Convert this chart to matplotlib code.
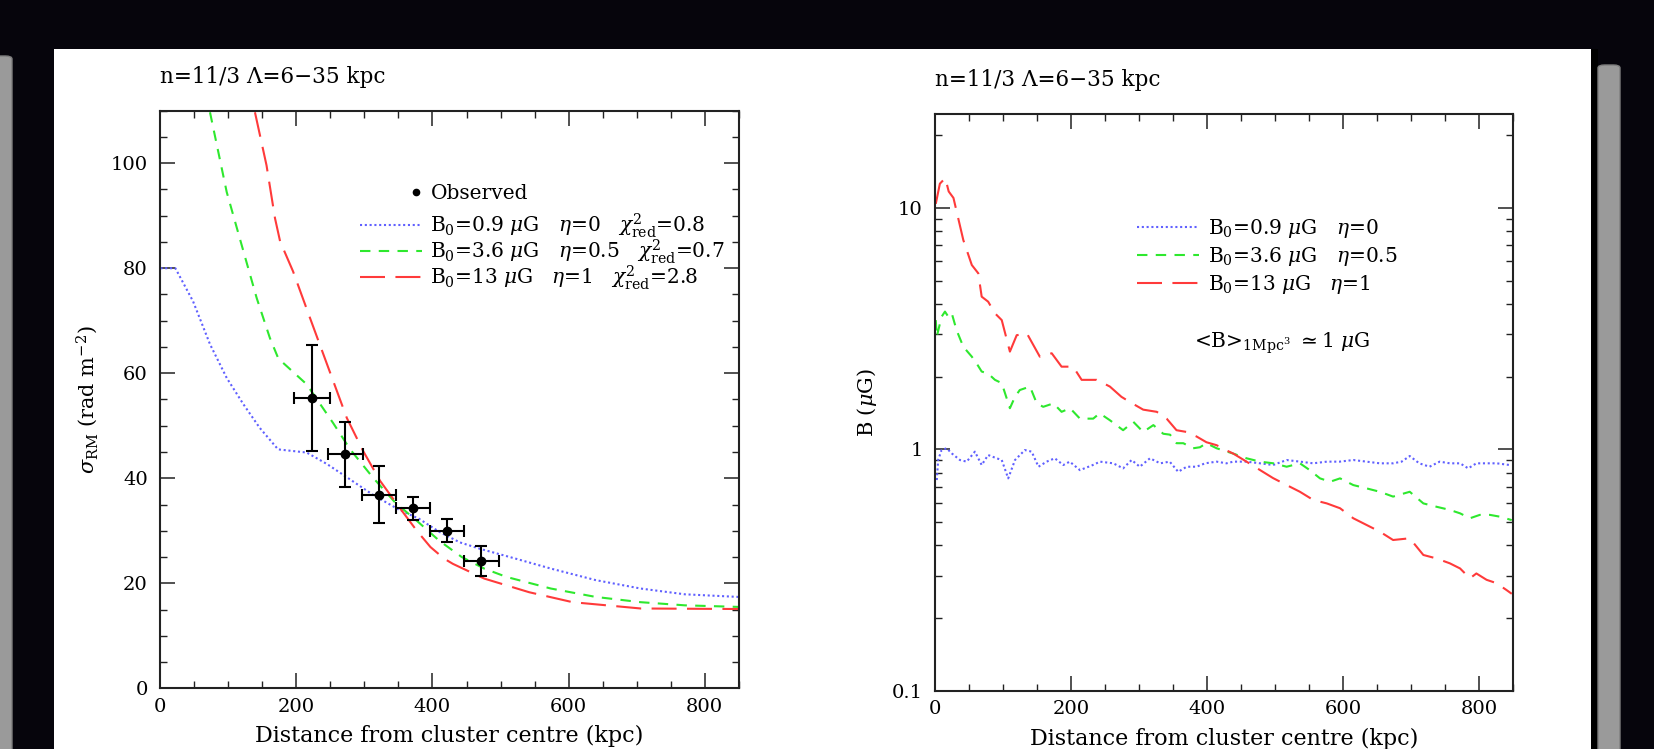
import matplotlib
matplotlib.use("Agg")
import matplotlib.pyplot as plt
from matplotlib.lines import Line2D
from matplotlib.patches import Rectangle, FancyBboxPatch
from matplotlib.ticker import MultipleLocator, LogLocator, FixedLocator, FuncFormatter, NullFormatter

# ---------------- data ----------------
# Left panel: sigma_RM profiles
obs_x = [223, 272, 322, 372, 422, 472]
obs_y = [55.3, 44.6, 36.9, 34.3, 30.0, 24.2]
obs_xerr = [26, 26, 25, 25, 25, 26]
obs_yerr = [10.1, 6.2, 5.5, 2.2, 2.2, 2.9]

blue_sx = [0, 22, 48, 73, 97.5, 122, 146, 173, 215, 245, 274, 313, 351, 380, 410, 440, 469, 522, 574, 640, 706, 771, 850]
blue_sy = [80, 80, 73.7, 65.5, 59.1, 54.1, 49.6, 45.5, 44.9, 42.7, 40.2, 36.8, 34.0, 32.3, 29.8, 27.8, 26.6, 24.7, 22.8, 20.6, 19.0, 17.9, 17.4]

green_sx = [72.9, 97.5, 119.5, 141.6, 161, 173.4, 215, 254, 279, 312, 345, 377, 410, 443, 476, 509, 574, 640, 706, 771, 850]
green_sy = [109.7, 94.5, 84.4, 74.3, 66.7, 62.8, 57.9, 50.5, 45.5, 40.2, 35.4, 31.9, 28.1, 25.0, 22.8, 21.2, 19.0, 17.4, 16.4, 15.8, 15.5]

red_sx = [139, 156, 168.5, 176, 195, 220, 245, 274, 298, 323, 351, 377, 397, 417, 430, 476, 542, 606, 706, 850]
red_sy = [109.7, 99.6, 89.5, 85.1, 79.4, 70.5, 61.7, 51.5, 45.2, 39.5, 34.5, 30.0, 26.9, 24.7, 23.7, 20.9, 18.3, 16.4, 15.2, 15.1]

# Right panel: B profiles
red_bx = [1, 7, 15, 20, 27, 41.5, 54, 63.5, 68.5, 78,
          88, 98, 110, 120, 135, 154, 171.5, 186, 203, 215.5,
          237.5, 257, 274, 286.5, 306, 326, 340.5, 355, 370, 384.5,
          399, 414, 428.5, 438.5, 458, 478, 497, 517, 536.5, 556,
          576, 595.5, 615, 634.5, 654, 673.5, 698, 718, 737.5, 757,
          772, 786.5, 796, 811, 825.5, 840.5, 848]
red_by = [10.4, 12.6, 13.3, 11.7, 11.0, 7.36, 5.8, 5.36, 4.29, 4.09,
          3.66, 3.43, 2.54, 2.97, 3.02, 2.42, 2.5, 2.2, 2.2, 1.94,
          1.94, 1.82, 1.65, 1.57, 1.46, 1.43, 1.34, 1.2, 1.18, 1.13,
          1.07, 1.04, 0.99, 0.96, 0.889, 0.82, 0.76, 0.711, 0.667, 0.617,
          0.597, 0.57, 0.518, 0.486, 0.456, 0.421, 0.428, 0.365, 0.353, 0.337,
          0.321, 0.292, 0.306, 0.288, 0.279, 0.261, 0.252]

green_bx = [1, 2.5, 9.5, 14.5, 19.5, 24.5, 31.5, 41.5, 54, 61,
            68.5, 78, 88, 98, 110, 117.5, 124.5, 139.5, 149.5, 159,
            174, 186, 198.5, 213, 232.5, 242, 257, 276.5, 291.5, 306,
            321, 335.5, 345.5, 355, 365, 379.5, 389.5, 399, 414, 428.5,
            438.5, 458, 478, 497.5, 517, 536.5, 551, 566, 581, 595.5,
            615, 634.5, 654, 673.5, 698, 718, 737.5, 757, 772, 786.5,
            801, 816, 830.5, 848]
green_by = [3.43, 2.93, 3.54, 3.72, 3.54, 3.66, 3.12, 2.66, 2.42, 2.27,
            2.1, 2.06, 1.94, 1.88, 1.48, 1.65, 1.76, 1.82, 1.55, 1.5,
            1.55, 1.43, 1.48, 1.34, 1.34, 1.41, 1.32, 1.2, 1.3, 1.18,
            1.26, 1.16, 1.15, 1.06, 1.06, 1.01, 1.02, 1.06, 1.01, 0.98,
            0.96, 0.918, 0.889, 0.875, 0.847, 0.875, 0.82, 0.758, 0.734, 0.758,
            0.711, 0.689, 0.667, 0.637, 0.667, 0.597, 0.578, 0.561, 0.543, 0.518,
            0.535, 0.535, 0.526, 0.509]

blue_bx = [2.5, 4.5, 9.5, 17, 24.5, 36.5, 46.5, 58.5, 68.5, 78,
           90.5, 98, 107.5, 117.5, 132, 142, 152, 164, 176, 188.5,
           198, 213, 232, 242.5, 262, 276.5, 289, 301, 316, 331,
           345, 357.5, 370, 384.5, 397, 414, 428.5, 438.5, 458, 478,
           497, 517, 536.5, 556, 576, 595, 615, 634.5, 654, 673.5,
           686, 698, 712, 727, 742, 757, 772, 784, 796, 811,
           826, 845]
blue_by = [0.746, 0.903, 0.993, 1.01, 0.962, 0.903, 0.889, 0.978, 0.861, 0.947,
           0.918, 0.903, 0.758, 0.903, 0.993, 0.978, 0.847, 0.889, 0.918, 0.861,
           0.889, 0.82, 0.861, 0.889, 0.875, 0.834, 0.903, 0.847, 0.918, 0.875,
           0.889, 0.807, 0.847, 0.847, 0.875, 0.889, 0.875, 0.889, 0.889, 0.875,
           0.861, 0.903, 0.889, 0.875, 0.889, 0.889, 0.903, 0.889, 0.875, 0.875,
           0.889, 0.938, 0.875, 0.847, 0.889, 0.875, 0.875, 0.834, 0.875, 0.875,
           0.875, 0.861]

title_text = "n=11/3 \u039b=6\u221235 kpc"
xlabel_text = "Distance from cluster centre (kpc)"
left_labels = [r"B$_0$=0.9 $\mu$G   $\eta$=0   $\chi^2_{\rm red}$=0.8",
               r"B$_0$=3.6 $\mu$G   $\eta$=0.5   $\chi^2_{\rm red}$=0.7",
               r"B$_0$=13 $\mu$G   $\eta$=1   $\chi^2_{\rm red}$=2.8"]
right_labels = [r"B$_0$=0.9 $\mu$G   $\eta$=0",
                r"B$_0$=3.6 $\mu$G   $\eta$=0.5",
                r"B$_0$=13 $\mu$G   $\eta$=1"]

# ---------------- style ----------------
plt.rcParams['font.family'] = ['DejaVu Serif']
plt.rcParams['mathtext.fontset'] = 'dejavuserif'
FS = 14
FS_LAB = 16
FS_TITLE = 15.5
FS_LEG = 14.5

C_BLUE = '#6060ff'
C_GREEN = '#2ee82e'
C_RED = '#ff3a3a'
LS_BLUE = (0, (1, 1.3))
LS_GREEN = (0, (5, 4))
LS_RED = (0, (12, 5))
LW = 1.5

W, H = 1654, 749
fig = plt.figure(figsize=(W / 100, H / 100), dpi=100)
fig.patch.set_facecolor('#06050c')

def fr(x0, y0, x1, y1):
    return (x0 / W, 1 - y1 / H, (x1 - x0) / W, (y1 - y0) / H)

# slide background elements
x, y, w, h = fr(54.3, 49.3, 1591, 749)
fig.add_artist(Rectangle((x, y), w, h, transform=fig.transFigure, facecolor='white', edgecolor='none', zorder=-5))
x, y, w, h = fr(1591, 49.3, 1598, 749)
fig.add_artist(Rectangle((x, y), w, h, transform=fig.transFigure, facecolor='black', edgecolor='none', zorder=-5))
for (a, b, c, d) in [(1598, 65, 1620, 760), (-10, 56, 12, 760)]:
    x, y, w, h = fr(a, b, c, d)
    fig.add_artist(FancyBboxPatch((x, y), w, h, boxstyle="round,pad=0,rounding_size=0.004",
                                  transform=fig.transFigure, facecolor='#9a9a9a',
                                  edgecolor='#7e7e7e', lw=1.0, zorder=-4))

axL = fig.add_axes([160.4 / W, 1 - 688.3 / H, 578.2 / W, 577.6 / H])
axR = fig.add_axes([935.1 / W, 1 - 690.7 / H, 578.0 / W, 576.7 / H])

for ax in (axL, axR):
    ax.set_facecolor('white')
    for s in ax.spines.values():
        s.set_linewidth(1.5)
        s.set_color('#222222')
    ax.tick_params(which='both', direction='in', top=True, right=True,
                   colors='#222222', labelcolor='black', labelsize=FS)
    ax.tick_params(which='major', length=10.5, width=1.1)
    ax.tick_params(which='minor', length=5, width=1.0)
    ax.tick_params(axis='x', pad=7)
    ax.tick_params(axis='y', pad=9)
    ax.set_xlim(0, 850)
    ax.xaxis.set_major_locator(MultipleLocator(200))
    ax.xaxis.set_minor_locator(MultipleLocator(50))
    ax.set_xlabel(xlabel_text, fontsize=FS_LAB)

# ---------------- left panel ----------------
axL.set_ylim(0, 110)
axL.yaxis.set_major_locator(MultipleLocator(20))
axL.yaxis.set_minor_locator(MultipleLocator(5))
lb, = axL.plot(blue_sx, blue_sy, color=C_BLUE, ls=LS_BLUE, lw=LW)
lg, = axL.plot(green_sx, green_sy, color=C_GREEN, ls=LS_GREEN, lw=LW)
lr, = axL.plot(red_sx, red_sy, color=C_RED, ls=LS_RED, lw=LW)
axL.errorbar(obs_x, obs_y, xerr=obs_xerr, yerr=obs_yerr, fmt='o', color='black',
             ms=6, capsize=4, elinewidth=1.5, capthick=1.5, zorder=5)
axL.set_ylabel(r"$\sigma_{\rm RM}$ (rad m$^{-2}$)", fontsize=FS_LAB - 1)
axL.yaxis.set_label_coords(-0.104, 0.5)
axL.xaxis.set_label_coords(0.5, -0.063)
axL.text(0.0, 1.048, title_text, transform=axL.transAxes, fontsize=FS_TITLE, va='baseline', ha='left')

obs_handle = Line2D([], [], marker='o', ls='none', color='black', ms=4.5)
leg1 = axL.legend([obs_handle], ["Observed"], loc='center left', bbox_to_anchor=(0.428, 0.857),
                  frameon=False, fontsize=FS_LEG, handlelength=0.8, handletextpad=0.35, borderpad=0,
                  borderaxespad=0)
axL.add_artist(leg1)
axL.legend([lb, lg, lr], left_labels, loc='center left', bbox_to_anchor=(0.3452, 0.7565),
           frameon=False, fontsize=FS_LEG, handlelength=3.1, handletextpad=0.4, borderpad=0,
           borderaxespad=0, labelspacing=-0.13)

# ---------------- right panel ----------------
axR.set_yscale('log')
axR.set_ylim(0.1, 24.5)
axR.yaxis.set_major_locator(FixedLocator([0.1, 1, 10]))
axR.yaxis.set_major_formatter(FuncFormatter(lambda v, p: "%g" % v))
axR.yaxis.set_minor_locator(LogLocator(base=10, subs=(2, 3, 4, 5, 6, 7, 8, 9)))
axR.yaxis.set_minor_formatter(NullFormatter())
rb, = axR.plot(blue_bx, blue_by, color=C_BLUE, ls=LS_BLUE, lw=LW)
rg, = axR.plot(green_bx, green_by, color=C_GREEN, ls=LS_GREEN, lw=LW)
rr, = axR.plot(red_bx, red_by, color=C_RED, ls=LS_RED, lw=LW)
axR.set_ylabel(r"B ($\mu$G)", fontsize=FS_LAB - 1)
axR.yaxis.set_label_coords(-0.097, 0.5)
axR.xaxis.set_label_coords(0.5, -0.065)
axR.text(0.0, 1.0486, title_text, transform=axR.transAxes, fontsize=FS_TITLE, va='baseline', ha='left')
axR.legend([rb, rg, rr], right_labels, loc='center left', bbox_to_anchor=(0.3488, 0.7525),
           frameon=False, fontsize=FS_LEG, handlelength=3.1, handletextpad=0.45, borderpad=0,
           borderaxespad=0, labelspacing=0.25)
axR.text(0.448, 0.603, r"<B>$_{\rm 1Mpc^3}$ $\simeq$1 $\mu$G", transform=axR.transAxes,
         fontsize=FS_LEG, va='center', ha='left')

fig.savefig("out.png", dpi=100, facecolor=fig.get_facecolor())
